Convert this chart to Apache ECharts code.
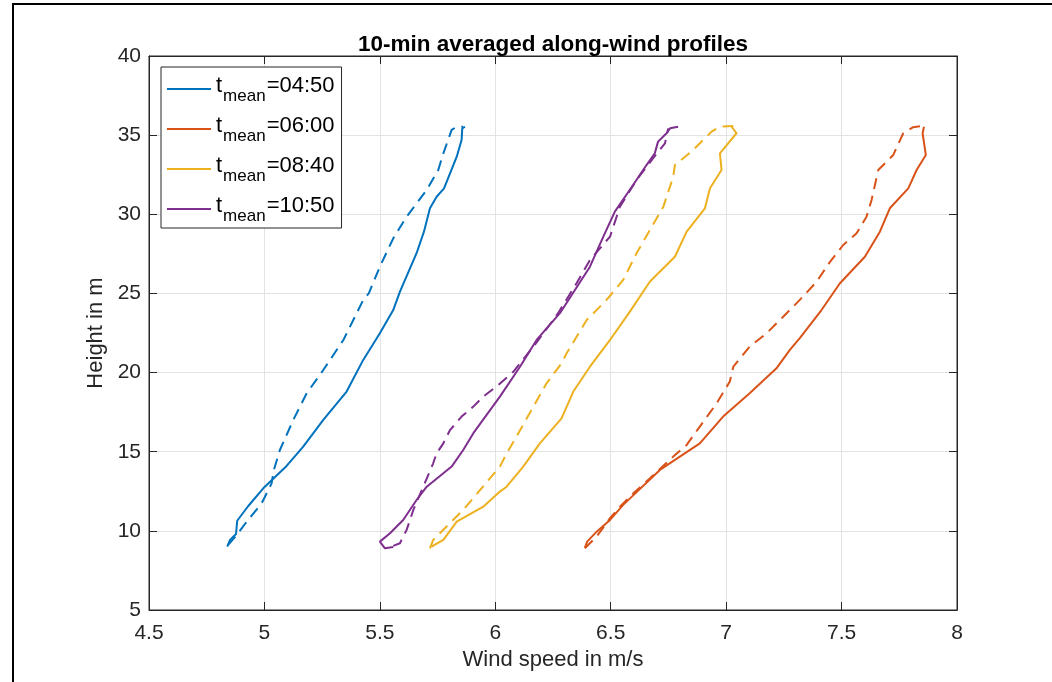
<!DOCTYPE html>
<html>
<head>
<meta charset="utf-8">
<script src="https://cdn.jsdelivr.net/npm/echarts@6/dist/echarts.min.js"></script>
<style>
html,body{margin:0;padding:0;background:#fff;}
#chart{width:1052px;height:682px;}
</style>
</head>
<body>
<div id="chart"></div>
<script>
// ---- data: [wind speed (m/s), height (m)] ----
const seriesNames = ['04:50', '06:00', '08:40', '10:50'];
const xTicks = [4.5, 5, 5.5, 6, 6.5, 7, 7.5, 8];
const yTicks = [5, 10, 15, 20, 25, 30, 35, 40];

const solid0450 = [[4.839,9.0],[4.851,9.43],[4.877,9.80],[4.882,10.64],[4.930,11.57],[4.995,12.69],[5.096,14.10],[5.168,15.32],[5.255,17.01],[5.356,18.80],[5.428,20.80],[5.500,22.48],[5.558,23.95],[5.587,25.11],[5.659,27.54],[5.691,28.90],[5.717,30.38],[5.746,31.11],[5.778,31.64],[5.833,33.64],[5.854,34.69],[5.857,35.43],[5.869,35.53]];
const dashed0450 = [[4.843,9.11],[4.880,9.74],[4.923,10.58],[4.988,11.74],[5.031,13.0],[5.041,13.85],[5.067,15.11],[5.125,17.01],[5.183,18.69],[5.255,20.16],[5.342,22.06],[5.428,24.59],[5.452,25.0],[5.500,26.69],[5.558,28.48],[5.616,29.85],[5.703,31.54],[5.753,32.80],[5.775,33.85],[5.811,35.33],[5.833,35.53],[5.861,35.53]];

const solid0600 = [[6.388,8.92],[6.381,9.02],[6.398,9.32],[6.439,9.95],[6.497,10.69],[6.554,11.64],[6.713,13.85],[6.886,15.53],[6.987,17.22],[7.102,18.69],[7.218,20.27],[7.276,21.43],[7.319,22.17],[7.413,23.95],[7.493,25.64],[7.601,27.32],[7.666,28.90],[7.709,30.38],[7.789,31.64],[7.825,32.80],[7.865,33.75],[7.851,35.12],[7.857,35.53]];
const dashed0600 = [[6.388,8.9],[6.439,9.64],[6.497,10.80],[6.540,11.53],[6.598,12.37],[6.670,13.32],[6.771,14.69],[6.829,15.43],[6.886,16.59],[6.959,18.06],[7.016,19.43],[7.031,20.37],[7.102,21.64],[7.175,22.48],[7.247,23.53],[7.319,24.59],[7.392,25.74],[7.450,27.0],[7.507,28.06],[7.565,28.80],[7.608,29.85],[7.630,30.90],[7.659,32.80],[7.724,33.75],[7.767,35.12],[7.810,35.50],[7.853,35.58]];

const solid0840 = [[5.724,9.0],[5.775,9.43],[5.833,10.58],[5.948,11.53],[6.020,12.48],[6.049,12.79],[6.121,14.06],[6.193,15.53],[6.287,17.11],[6.338,18.80],[6.410,20.37],[6.497,22.06],[6.583,23.85],[6.670,25.75],[6.778,27.32],[6.829,28.90],[6.908,30.38],[6.930,31.64],[6.980,32.80],[6.973,33.85],[7.045,35.12],[7.024,35.53]];
const dashed0840 = [[5.717,8.9],[5.731,9.43],[5.861,11.32],[6.020,14.06],[6.042,14.69],[6.100,16.17],[6.165,17.85],[6.222,19.32],[6.287,20.58],[6.309,21.22],[6.396,23.32],[6.482,24.59],[6.554,25.85],[6.612,27.54],[6.670,29.01],[6.728,30.48],[6.771,32.38],[6.778,33.11],[6.857,34.06],[6.937,35.22],[6.973,35.53],[7.031,35.58]];

const solid1050 = [[5.558,8.98],[5.522,8.9],[5.500,9.32],[5.544,9.85],[5.601,10.69],[5.659,11.95],[5.703,12.79],[5.811,14.06],[5.861,15.11],[5.905,16.17],[6.020,18.48],[6.107,20.37],[6.179,22.06],[6.280,23.75],[6.345,25.22],[6.410,26.69],[6.468,28.59],[6.518,30.17],[6.597,31.85],[6.655,33.11],[6.691,33.85],[6.705,34.59],[6.742,35.12],[6.757,35.43],[6.792,35.53]];
const dashed1050 = [[5.558,9.05],[5.587,9.22],[5.616,10.06],[5.645,11.32],[5.688,12.79],[5.731,14.27],[5.746,14.90],[5.775,15.53],[5.804,16.37],[5.854,17.22],[5.905,17.85],[5.948,18.48],[6.013,19.22],[6.078,20.05],[6.179,21.9],[6.272,23.75],[6.352,25.64],[6.410,27.11],[6.497,28.59],[6.540,30.48],[6.612,32.17],[6.684,33.54],[6.735,34.48],[6.749,35.43]];

const solidSets = [solid0450, solid0600, solid0840, solid1050];
const dashedSets = [dashed0450, dashed0600, dashed0840, dashed1050];

// ---- styling ----
const colors = ['#0072BD', '#D95319', '#EDB120', '#7E2F8E'];
const axisColor = '#262626';
const FONT = '"Liberation Sans", Arial, Helvetica, sans-serif';

const series = [];
seriesNames.forEach(function (name, i) {
  series.push({
    name: name, type: 'line', data: solidSets[i], symbol: 'none', showSymbol: false,
    lineStyle: { color: colors[i], width: 2, type: 'solid' }, itemStyle: { color: colors[i] },
    z: 3
  });
});
seriesNames.forEach(function (name, i) {
  series.push({
    name: name, type: 'line', data: dashedSets[i], symbol: 'none', showSymbol: false,
    lineStyle: { color: colors[i], width: 2, type: [11, 7] }, itemStyle: { color: colors[i] },
    z: 3
  });
});

const chart = echarts.init(document.getElementById('chart'), null, { renderer: 'canvas' });
const option = {
  animation: false,
  backgroundColor: '#fff',
  textStyle: { fontFamily: FONT },
  title: {
    text: '10-min averaged along-wind profiles',
    left: 548, top: 28, textAlign: 'center',
    textStyle: { fontFamily: FONT, fontSize: 22.5, fontWeight: 'bold', color: '#000' }
  },
  graphic: [{
    type: 'rect', silent: true, z: 100,
    shape: { x: 13, y: 4, width: 1200, height: 800 },
    style: { fill: 'none', stroke: '#000', lineWidth: 2 }
  }],
  grid: { left: 149, top: 56, right: 95, bottom: 72, containLabel: false,
          show: true, backgroundColor: '#fff', borderColor: axisColor, borderWidth: 1 },
  legend: {
    data: seriesNames,
    orient: 'vertical', left: 161, top: 67,
    padding: [2, 7, 3, 6],
    itemGap: 4, itemWidth: 44, itemHeight: 20,
    icon: 'path://M0,0L0.01,0L0.01,0.01Z M0,18L44,18L44,20L0,20Z',
    symbolKeepAspect: false,
    backgroundColor: '#fff', borderColor: axisColor, borderWidth: 1,
    formatter: function (name) { return '{t|t}{s|mean}{t|=' + name + '}'; },
    textStyle: {
      fontFamily: FONT, color: '#000',
      rich: {
        t: { fontFamily: FONT, fontSize: 22, color: '#000', lineHeight: 22, verticalAlign: 'top', padding: [6, 0, 0, 0] },
        s: { fontFamily: FONT, fontSize: 17, color: '#000', lineHeight: 18, verticalAlign: 'top', padding: [19, 1, 0, 1] }
      }
    }
  },
  xAxis: [{
    type: 'value', min: 4.5, max: 8, interval: 0.5, position: 'bottom',
    name: 'Wind speed in m/s', nameLocation: 'middle', nameGap: 32,
    nameTextStyle: { fontFamily: FONT, fontSize: 22, color: axisColor },
    axisLine: { show: true, lineStyle: { color: axisColor, width: 1 } },
    axisTick: { show: true, inside: true, length: 8, lineStyle: { color: axisColor } },
    axisLabel: { fontFamily: FONT, fontSize: 21, color: axisColor, margin: 13,
                 formatter: function (v) { return String(+v.toFixed(2)); } },
    splitLine: { show: true, lineStyle: { color: '#e3e3e3', width: 1 } }
  }, {
    type: 'value', min: 4.5, max: 8, interval: 0.5, position: 'top',
    axisLine: { show: true, lineStyle: { color: axisColor, width: 1 } },
    axisTick: { show: true, inside: true, length: 8, lineStyle: { color: axisColor } },
    axisLabel: { show: false }, splitLine: { show: false }
  }],
  yAxis: [{
    type: 'value', min: 5, max: 40, interval: 5, position: 'left',
    name: 'Height in m', nameLocation: 'middle', nameGap: 37,
    nameTextStyle: { fontFamily: FONT, fontSize: 22, color: axisColor },
    axisLine: { show: true, lineStyle: { color: axisColor, width: 1 } },
    axisTick: { show: true, inside: true, length: 8, lineStyle: { color: axisColor } },
    axisLabel: { fontFamily: FONT, fontSize: 21, color: axisColor, margin: 8 },
    splitLine: { show: true, lineStyle: { color: '#e3e3e3', width: 1 } }
  }, {
    type: 'value', min: 5, max: 40, interval: 5, position: 'right',
    axisLine: { show: true, lineStyle: { color: axisColor, width: 1 } },
    axisTick: { show: true, inside: true, length: 8, lineStyle: { color: axisColor } },
    axisLabel: { show: false }, splitLine: { show: false }
  }],
  series: series
};
chart.setOption(option);
</script>
</body>
</html>
